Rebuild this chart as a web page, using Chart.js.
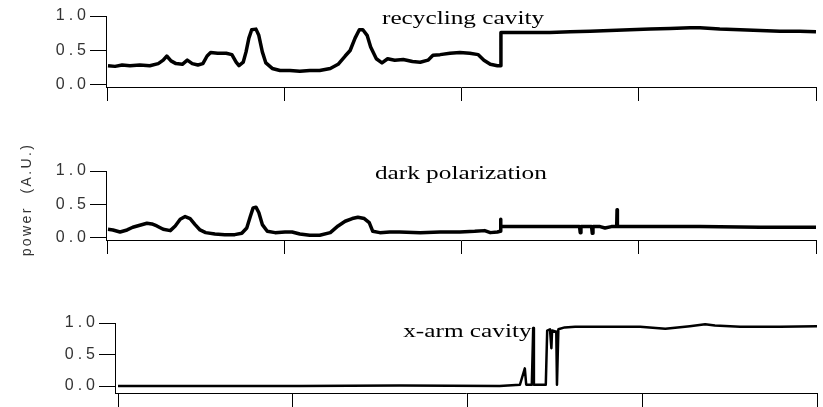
<!DOCTYPE html>
<html>
<head>
<meta charset="utf-8">
<script src="https://cdn.jsdelivr.net/npm/chart.js@4.4.1/dist/chart.umd.min.js"></script>
<style>
  html, body { margin: 0; padding: 0; background: #fff; }
  #wrap { position: relative; width: 823px; height: 407px; overflow: hidden; }
  canvas { position: absolute; left: 0; }
</style>
</head>
<body>
<div id="wrap">
  <canvas id="c1" width="823" height="102" style="top:0px"></canvas>
  <canvas id="c2" width="823" height="145" style="top:120px"></canvas>
  <canvas id="c3" width="823" height="100" style="top:307px"></canvas>
</div>
<script>
// time axis (arbitrary units, ticks are unlabeled) and y ticks
const xTicks = [0, 25, 50, 75, 100];
const yTicks = [0, 0.5, 1];
const yLabel = 'power  (A.U.)';

// recycling cavity
const recT = [0, 1.0, 2.0, 3.1, 4.5, 5.9, 7.1, 7.8, 8.3, 8.9, 9.6, 10.5, 11.2, 11.9, 12.7, 13.4, 14.0, 14.5, 15.5, 16.7,
  17.5, 18.1, 18.5, 19.1, 19.5, 19.9, 20.3, 20.9, 21.3, 21.8, 22.3, 23.2, 24.3, 25.7, 27.1, 28.5, 29.9, 31.4, 32.5, 33.5,
  34.2, 34.9, 35.5, 36.0, 36.6, 37.1, 37.9, 38.7, 39.5, 40.5, 41.7, 43.0, 44.1, 45.2, 45.9, 46.9, 48.3, 49.7, 51.1, 52.3,
  53.1, 54.0, 55.0, 55.4, 55.5, 56.8, 59.6, 62.4, 65.3, 68.1, 70.9, 73.7, 76.6, 79.4, 82.2, 83.6, 86.4, 89.3, 92.1, 94.9,
  97.7, 100];
const recP = [0.28, 0.27, 0.29, 0.28, 0.29, 0.28, 0.31, 0.36, 0.42, 0.35, 0.31, 0.30, 0.36, 0.31, 0.29, 0.31, 0.42, 0.47, 0.46, 0.46,
  0.44, 0.33, 0.28, 0.33, 0.48, 0.68, 0.80, 0.81, 0.72, 0.48, 0.32, 0.24, 0.21, 0.21, 0.20, 0.21, 0.21, 0.24, 0.30, 0.42,
  0.50, 0.68, 0.80, 0.80, 0.72, 0.55, 0.38, 0.32, 0.38, 0.36, 0.37, 0.34, 0.33, 0.36, 0.43, 0.44, 0.46, 0.47, 0.46, 0.44,
  0.36, 0.30, 0.28, 0.28, 0.76, 0.76, 0.76, 0.76, 0.77, 0.78, 0.79, 0.80, 0.81, 0.82, 0.83, 0.83, 0.81, 0.80, 0.79, 0.78,
  0.78, 0.77];

// dark polarization
const darkT = [0, 0.7, 1.7, 2.7, 3.5, 4.5, 5.5, 6.2, 6.9, 7.8, 8.8, 9.5, 10.2, 10.9, 11.6, 12.3, 13.0, 13.8, 15.1, 16.5,
  17.9, 18.9, 19.6, 20.1, 20.5, 20.9, 21.3, 21.8, 22.5, 23.6, 25.0, 26.0, 27.1, 28.5, 29.9, 31.4, 32.5, 33.5, 34.5, 35.3,
  36.2, 36.9, 37.4, 38.4, 39.8, 41.2, 44.1, 46.9, 49.7, 51.8, 53.2, 54.0, 55.0, 55.4, 55.45, 55.5, 58.2, 61.0, 63.8, 66.0,
  66.6, 66.7, 66.8, 68.3, 68.4, 68.5, 69.5, 70.2, 71.1, 71.85, 71.9, 71.95, 75.1, 83.6, 92.1, 100];
const darkP = [0.13, 0.12, 0.09, 0.12, 0.16, 0.19, 0.22, 0.21, 0.18, 0.13, 0.11, 0.18, 0.28, 0.32, 0.29, 0.20, 0.12, 0.08, 0.06, 0.05,
  0.05, 0.07, 0.15, 0.32, 0.45, 0.46, 0.38, 0.20, 0.10, 0.08, 0.09, 0.09, 0.06, 0.04, 0.04, 0.08, 0.18, 0.25, 0.29, 0.31,
  0.29, 0.23, 0.10, 0.08, 0.09, 0.09, 0.08, 0.09, 0.09, 0.10, 0.11, 0.08, 0.09, 0.10, 0.28, 0.17, 0.17, 0.17, 0.17, 0.17,
  0.17, 0.08, 0.17, 0.17, 0.07, 0.17, 0.17, 0.15, 0.17, 0.17, 0.42, 0.17, 0.17, 0.17, 0.16, 0.16];

// x-arm cavity
const xarmT = [0, 11.7, 26.0, 40.3, 54.6, 57.5, 58.2, 58.4, 59.2, 59.4, 59.5, 61.2, 61.4, 61.8, 62.0, 62.1, 62.7, 62.8, 63.0, 63.9,
  65.4, 69.0, 74.7, 78.3, 81.8, 84.0, 85.4, 89.0, 94.7, 100];
const xarmP = [0.0, 0.0, 0.0, 0.01, 0.0, 0.02, 0.28, 0.02, 0.02, 0.92, 0.02, 0.02, 0.88, 0.90, 0.60, 0.88, 0.86, 0.02, 0.90, 0.93,
  0.94, 0.94, 0.94, 0.91, 0.95, 0.98, 0.96, 0.94, 0.94, 0.95];

// Igor-style wide tick labels
const spacing = {
  id: 'spacing',
  beforeDraw(chart) { chart.ctx.letterSpacing = '4px'; },
  afterDraw(chart) { chart.ctx.letterSpacing = '0px'; }
};

// panel name in serif, stretched like the original figure; optional rotated y label
const panelTitle = {
  id: 'panelTitle',
  afterDraw(chart, args, o) {
    const { ctx, scales, chartArea } = chart;
    const px = scales.x.getPixelForValue(o.x);
    const py = scales.y.getPixelForValue(o.y);
    ctx.save();
    ctx.letterSpacing = '0px';
    ctx.font = '19px "Liberation Serif"';
    ctx.fillStyle = '#000';
    ctx.textBaseline = 'alphabetic';
    ctx.translate(px, py);
    ctx.scale(1.33, 1);
    ctx.fillText(o.text, 0, 0);
    ctx.restore();
    if (o.yLabel) {
      ctx.save();
      ctx.letterSpacing = '2.4px';
      ctx.font = '14px "Liberation Sans"';
      ctx.fillStyle = '#333';
      ctx.textAlign = 'center';
      ctx.textBaseline = 'middle';
      ctx.translate(27, (chartArea.top + chartArea.bottom) / 2 - 6);
      ctx.rotate(-Math.PI / 2);
      ctx.fillText(o.yLabel, 0, 0);
      ctx.restore();
    }
  }
};

function makePanel(id, t, p, opt) {
  return new Chart(document.getElementById(id), {
    type: 'line',
    data: {
      datasets: [{
        data: t.map((v, i) => ({ x: v, y: p[i] })),
        borderColor: '#000',
        borderWidth: opt.lineWidth,
        borderJoinStyle: 'round',
        pointRadius: 0,
        tension: 0,
        fill: false
      }]
    },
    options: {
      responsive: false,
      animation: false,
      devicePixelRatio: 1,
      layout: { padding: { left: 0, right: opt.right, top: opt.top, bottom: opt.bottom } },
      plugins: {
        legend: { display: false },
        tooltip: { enabled: false },
        panelTitle: opt.title
      },
      scales: {
        x: {
          type: 'linear',
          min: opt.xMin,
          max: 100,
          afterBuildTicks: s => { s.ticks = xTicks.map(v => ({ value: v })); },
          ticks: { display: false },
          grid: { drawOnChartArea: false, color: '#000', tickLength: 14 },
          border: { color: '#000' }
        },
        y: {
          type: 'linear',
          min: opt.yMin,
          max: 1,
          afterBuildTicks: s => { s.ticks = yTicks.map(v => ({ value: v })); },
          afterFit: s => { s.width = opt.left; },
          ticks: {
            padding: 0,
            color: '#333',
            font: { family: 'Liberation Sans', size: 16 },
            callback: v => v.toFixed(1)
          },
          grid: { drawOnChartArea: false, color: '#000', tickLength: 16 },
          border: { color: '#000' }
        }
      }
    },
    plugins: [spacing, panelTitle]
  });
}

makePanel('c1', recT, recP, {
  left: 106, right: 7, top: 16, bottom: 1, xMin: -0.28, yMin: -0.029, lineWidth: 3.5,
  title: { text: 'recycling cavity', x: 38.7, y: 0.88 }
});

makePanel('c2', darkT, darkP, {
  left: 106, right: 7, top: 51, bottom: 11, xMin: -0.28, yMin: -0.03, lineWidth: 3.5,
  title: { text: 'dark polarization', x: 37.7, y: 0.88, yLabel: yLabel }
});

makePanel('c3', xarmT, xarmP, {
  left: 115, right: 6, top: 16, bottom: 0, xMin: -0.43, yMin: -0.111, lineWidth: 2.5,
  title: { text: 'x-arm cavity', x: 40.8, y: 0.78 }
});
</script>
</body>
</html>
